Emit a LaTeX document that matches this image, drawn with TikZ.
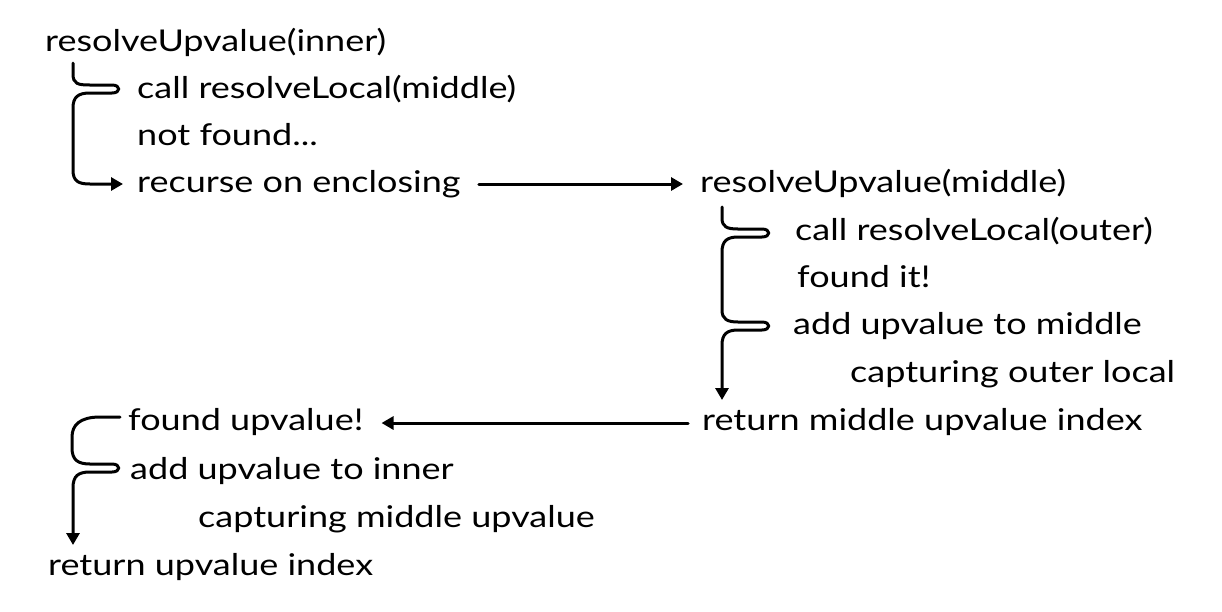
\documentclass[tikz,border=0pt]{standalone}
\usepackage{fontspec}
\setmainfont{Lato}[FakeStretch=1.2]
\usetikzlibrary{arrows.meta}
\begin{document}
\begin{tikzpicture}[x=1pt,y=-1pt,
  lbl/.style={anchor=base west,inner sep=0pt,font=\fontsize{30}{33}\selectfont},
  wire/.style={line width=3pt,line cap=round,line join=round},
  arr/.style={wire,-{Triangle[width=13pt,length=12pt]}}]
\useasboundingbox (0,0) rectangle (1222,611);
\fill[white] (0,0) rectangle (1222,611);
% left top
\node[lbl] (ruinner) at (45,51) {resolveUpvalue(inner)};
\node[lbl] (callmid) at (137,98) {call resolveLocal(middle)};
\node[lbl] (notfound) at (137,145) {not found...};
\node[lbl] (recurse) at (137,192) {recurse on enclosing};
% right
\node[lbl] (rumid) at (700,192) {resolveUpvalue(middle)};
\node[lbl] (callout) at (795,240) {call resolveLocal(outer)};
\node[lbl] (foundit) at (797,287) {found it!};
\node[lbl] (addmid) at (793,334) {add upvalue to middle};
\node[lbl] (captout) at (850,382) {capturing outer local};
\node[lbl] (retmid) at (702,430) {return middle upvalue index};
% left bottom
\node[lbl] (foundup) at (128,430) {found upvalue!};
\node[lbl] (addinner) at (130,479) {add upvalue to inner};
\node[lbl] (captmid) at (198,527) {capturing middle upvalue};
\node[lbl] (retup) at (48,575) {return upvalue index};
% coordinates
\coordinate (b1s) at (73,63);
\coordinate (b1e) at (123,184);
\coordinate (b2s) at (722,207);
\coordinate (b2e) at (722,400);
\coordinate (b3s) at (120,417);
\coordinate (b3e) at (73,545);
% bracket 1
\draw[arr] (b1s) -- (73,74) .. controls (73,84) and (78,85) .. (90,85) -- (112,85)
  .. controls (121,85) and (121,93) .. (112,93) -- (90,93)
  .. controls (78,93) and (73,97) .. (73,108) -- (73,170)
  .. controls (73,181) and (78,184) .. (90,184) -- (b1e);
% bracket 2
\draw[arr] (b2s) -- (722,218) .. controls (722,227) and (727,229) .. (738,229) -- (762,229)
  .. controls (771,229) and (771,237) .. (762,237) -- (738,237)
  .. controls (727,237) and (722,241) .. (722,252) -- (722,310)
  .. controls (722,319) and (727,322) .. (738,322) -- (762,322)
  .. controls (771,322) and (771,330) .. (762,330) -- (738,330)
  .. controls (727,330) and (722,334) .. (722,345) -- (b2e);
% bracket 3
\draw[arr] (b3s) -- (100,417) .. controls (80,417) and (72,425) .. (72,437) -- (72,448)
  .. controls (72,460) and (78,464) .. (90,464) -- (112,464)
  .. controls (121,464) and (121,472) .. (112,472) -- (90,472)
  .. controls (78,472) and (73,476) .. (73,488) -- (b3e);
% horizontal arrows
\draw[arr] ([xshift=18pt,yshift=8pt]recurse.base east) -- ([xshift=-17pt,yshift=8pt]rumid.base west);
\draw[arr] ([xshift=-14pt,yshift=7pt]retmid.base west) -- ([xshift=18pt,yshift=7pt]foundup.base east);
\end{tikzpicture}
\end{document}
